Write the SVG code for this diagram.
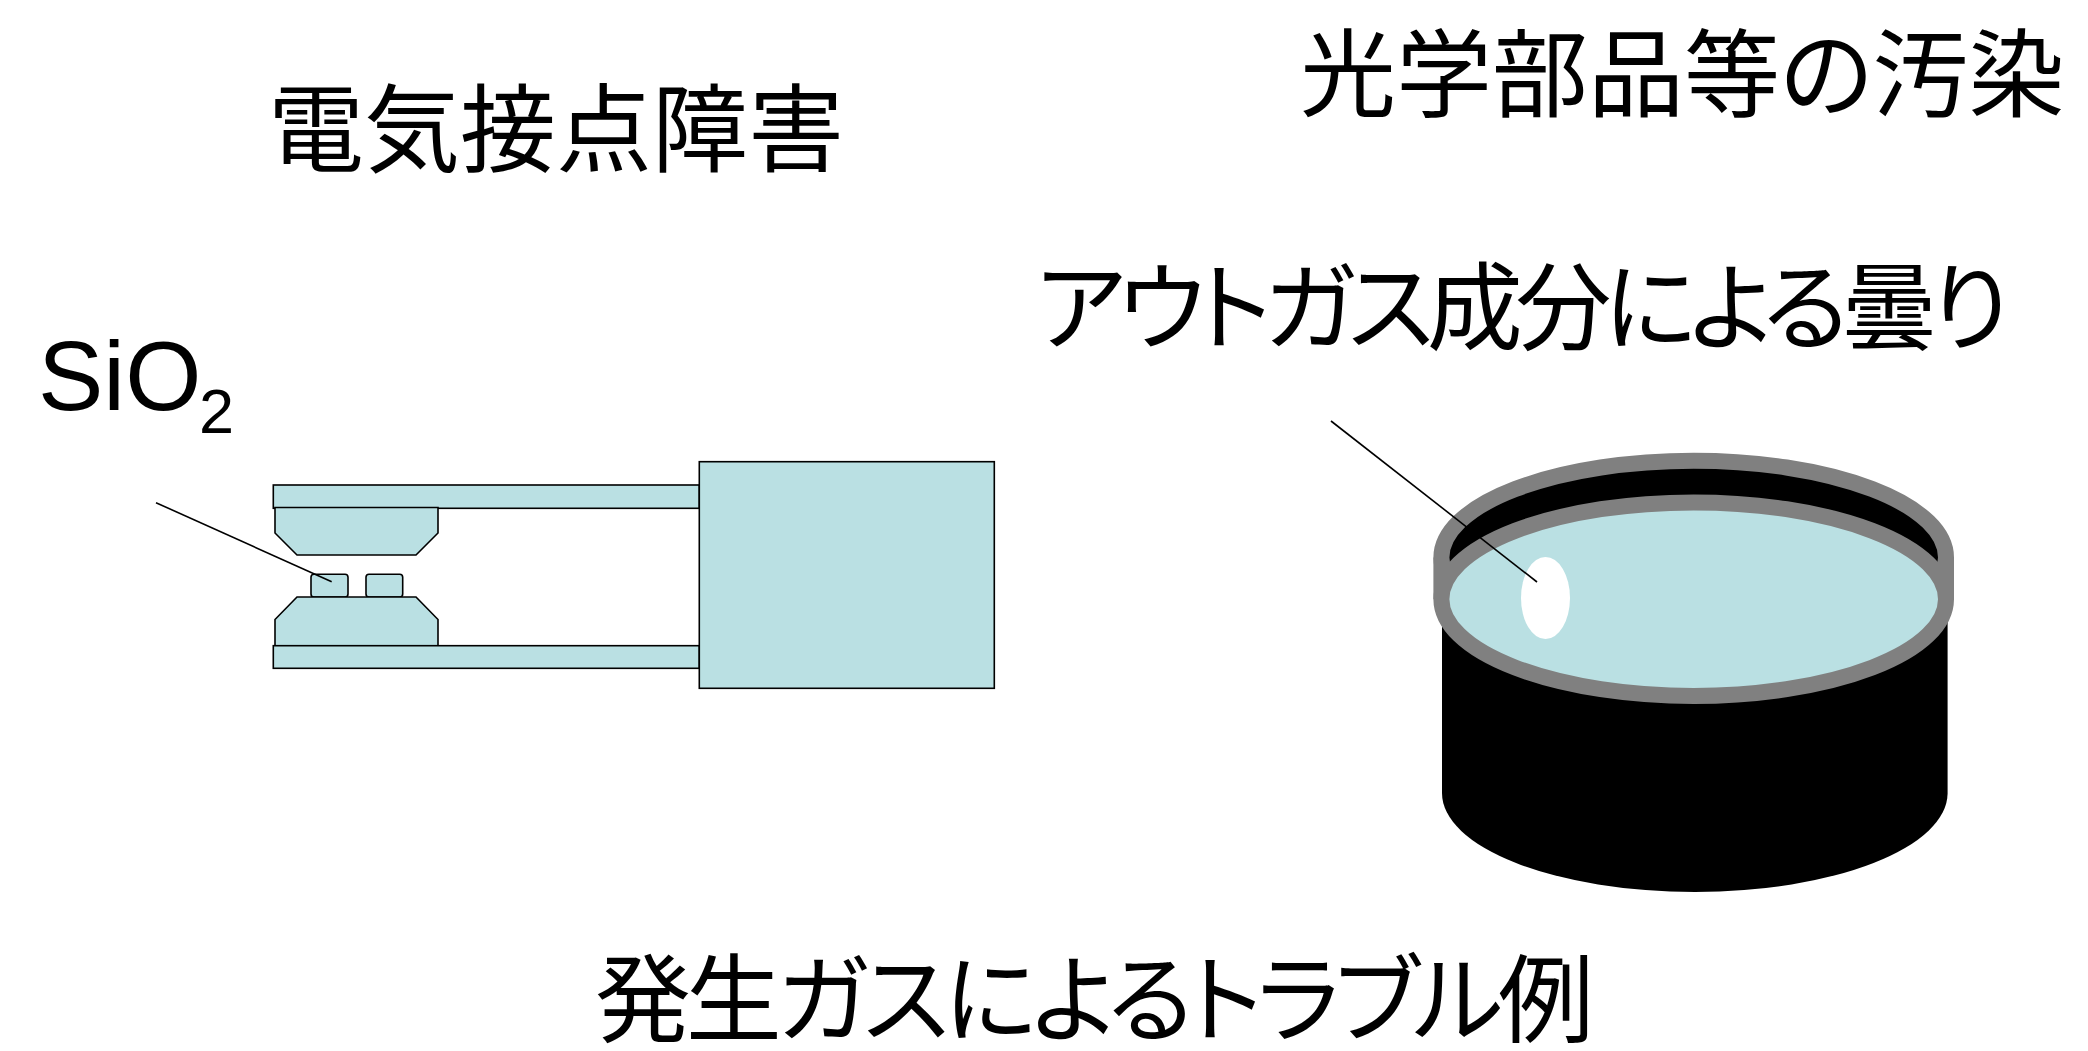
<svg xmlns="http://www.w3.org/2000/svg" width="2088" height="1051" viewBox="0 0 2088 1051">
  <style>
    .jp { font-family: "Noto Sans CJK JP", "Noto Sans CJK SC", sans-serif; font-size: 96px; fill: #000; }
    .prop { font-feature-settings: "palt" 1; }
    .lat { font-family: "Liberation Sans", Arial, sans-serif; fill: #000; }
    .part { fill: #BAE0E3; stroke: #000; stroke-width: 1.6; stroke-linejoin: miter; }
    .leader { stroke: #000; stroke-width: 1.6; fill: none; }
  </style>
  <rect width="2088" height="1051" fill="#fff"/>

  <!-- headings -->
  <g id="title-contact">
    <text class="jp" x="268" y="164">電気接点障害</text>
  </g>
  <g id="title-optics">
    <text class="jp prop" x="1300" y="109">光学部品等の汚染</text>
  </g>
  <g id="label-fog">
    <text class="jp prop" x="1036" y="342" letter-spacing="-7.4">アウトガス成分による曇り</text>
  </g>
  <g id="caption">
    <text class="jp prop" x="595" y="1034" letter-spacing="-5.2">発生ガスによるトラブル例</text>
  </g>
  <g id="label-sio2">
    <text class="lat" x="38" y="410" font-size="98">SiO</text>
    <text class="lat" x="199" y="433" font-size="63">2</text>
  </g>

  <!-- relay: contact arms, contacts and body -->
  <g id="relay">
    <rect class="part" x="273.3" y="485" width="426" height="23.3"/>
    <polygon class="part" points="275,507.5 438,507.5 438,533 416,555 297,555 275,533"/>
    <rect class="part" x="311" y="574.3" width="37" height="22.7" rx="3"/>
    <rect class="part" x="366" y="574.3" width="36.7" height="22.7" rx="3"/>
    <polygon class="part" points="297,597 416,597 438,619.5 438,645.7 275,645.7 275,619.5"/>
    <rect class="part" x="273.3" y="645.7" width="426" height="22.6"/>
    <rect class="part" x="699.3" y="461.7" width="295" height="226.6"/>
  </g>

  <!-- lens in its black mount -->
  <g id="lens">
    <path d="M1442,600 V793 A252.8,99 0 0 0 1947.6,793 V600 Z" fill="#000"/>
    <rect x="1433.4" y="557.5" width="520.6" height="41.7" fill="#808080"/>
    <ellipse cx="1693.7" cy="557.5" rx="252.3" ry="96.8" fill="#000" stroke="#808080" stroke-width="16"/>
    <ellipse cx="1693.7" cy="599.2" rx="252.3" ry="96.8" fill="#BAE0E3" stroke="#808080" stroke-width="16"/>
    <ellipse cx="1545.5" cy="598" rx="24.5" ry="41" fill="#fff"/>
  </g>

  <!-- leader lines -->
  <g id="connectors">
    <line class="leader" x1="156" y1="502.7" x2="331.7" y2="581.7"/>
    <line class="leader" x1="1331" y1="421" x2="1537" y2="582"/>
  </g>
</svg>
